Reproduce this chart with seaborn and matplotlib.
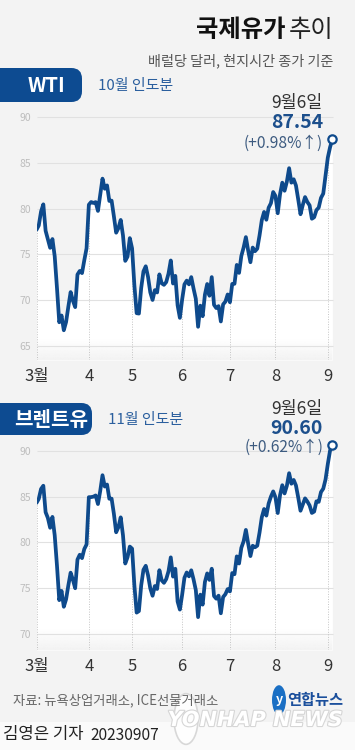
import numpy as np
import pandas as pd
import matplotlib
matplotlib.use('Agg')
import matplotlib.pyplot as plt
import matplotlib.patheffects as pe
from matplotlib.patches import FancyBboxPatch, Circle, Rectangle
import seaborn as sns

# trading days per month, Mar 1 ~ Sep 6 2023
month_labels = ['3월', '4', '5', '6', '7', '8', '9']
month_days = [23, 19, 22, 21, 20, 23, 3]

wti = [77.69, 78.16, 79.68, 80.46, 77.58, 76.66, 75.72, 76.68, 74.80, 71.33,
       67.61, 68.35, 66.74, 67.64, 69.33, 70.90, 69.96, 69.26, 72.81, 73.20,
       72.97, 74.37, 75.67,
       80.42, 80.71, 80.61, 80.70, 79.74, 81.53, 83.26, 82.16, 82.52, 80.83,
       80.86, 79.16, 77.37, 77.87, 78.76, 77.07, 74.30, 74.76, 76.78,
       75.66, 71.66, 68.60, 68.56, 71.34, 73.16, 73.71, 72.56, 70.87, 70.04,
       71.11, 70.86, 72.83, 71.86, 71.69, 71.99, 72.91, 74.34, 71.83, 72.67,
       69.46, 68.09,
       70.10, 71.74, 72.15, 71.74, 72.53, 71.29, 70.17, 67.12, 69.42, 68.27,
       70.62, 71.78, 70.50, 72.53, 69.51, 69.16, 69.37, 67.70, 69.56, 69.86,
       70.64,
       69.79, 71.79, 71.80, 73.86, 72.99, 74.83, 75.75, 76.89, 75.42, 74.15,
       75.75, 75.35, 75.63, 77.07, 78.74, 79.63, 78.78, 80.09, 80.58, 81.80,
       81.37, 79.49, 81.55, 82.82, 81.94, 82.92, 84.40, 82.82, 83.19, 82.51,
       80.99, 79.38, 80.39, 81.25, 80.72, 80.35, 78.89, 79.05, 79.83, 80.10,
       81.16, 81.63, 83.63,
       85.55, 86.69, 87.54]

brent = [84.31, 84.75, 85.83, 86.18, 83.29, 82.66, 81.59, 82.78, 80.77, 77.45,
         73.69, 74.70, 72.97, 73.79, 75.32, 76.69, 75.91, 74.99, 78.12, 78.65,
         78.28, 79.27, 79.77,
         84.93, 84.94, 84.99, 85.12, 84.18, 85.61, 87.33, 86.09, 86.31, 84.76,
         84.77, 83.12, 81.10, 81.66, 82.73, 80.77, 77.69, 78.37, 79.54,
         79.31, 75.32, 72.33, 72.50, 75.30, 77.01, 77.44, 76.41, 74.98, 74.17,
         75.23, 74.91, 76.96, 75.86, 75.58, 75.99, 76.84, 78.36, 76.26, 77.12,
         73.54, 72.66,
         74.28, 76.13, 76.71, 76.29, 76.95, 75.96, 74.79, 71.84, 74.29, 73.20,
         75.67, 76.61, 75.90, 77.12, 74.14, 73.85, 74.18, 72.26, 74.03, 74.34,
         74.90,
         74.65, 76.65, 76.52, 78.47, 77.69, 79.40, 80.11, 81.36, 79.87, 78.50,
         79.63, 79.46, 79.64, 81.07, 82.74, 83.64, 82.92, 84.24, 84.99, 85.56,
         84.91, 83.20, 85.14, 86.24, 85.34, 86.17, 87.55, 86.40, 86.81, 86.21,
         84.89, 83.45, 84.12, 84.80, 84.46, 84.03, 83.21, 83.36, 84.48, 84.42,
         85.49, 85.86, 86.86,
         88.55, 90.04, 90.60]

wti_ticks = [65, 70, 75, 80, 85, 90]
brent_ticks = [70, 75, 80, 85, 90]
wti_change = '(+0.98%↑)'
brent_change = '(+0.62%↑)'

BG = '#f3f3f3'
LINE = '#0e4a8c'
BLUE_TXT = '#1c4f8c'
W, H = 355, 750

sns.set_theme(style='white')
plt.rcParams['font.family'] = ['Noto Sans CJK KR', 'DejaVu Sans']

tick_pos = np.concatenate([[0], np.cumsum(month_days)[:-1]])


def px(x, y):
    return x / W, 1 - y / H


def draw_panel(ax, values, ylim, yticks):
    df = pd.DataFrame({'day': np.arange(len(values)), 'price': values})
    xmax = len(values) - 0.5
    ax.set_facecolor(BG)
    poly = ax.fill_between(df['day'], ylim[0], df['price'], color='white', lw=0, zorder=1)
    # fade of the white area into the background at the bottom
    grad = np.zeros((60, 1, 4))
    grad[..., :3] = matplotlib.colors.to_rgb(BG)
    grad[..., 3] = np.linspace(1, 0, 60)[:, None]
    im = ax.imshow(grad, extent=[0, xmax, ylim[0], ylim[0] + 2.2], origin='lower',
                   aspect='auto', zorder=2)
    im.set_clip_path(poly.get_paths()[0], transform=ax.transData)
    ax.hlines(yticks, 0, xmax, color='#e1e1e1', lw=0.8, zorder=3)
    ax.vlines(tick_pos, ylim[0], df['price'].values[tick_pos], colors='#c4c4c4',
              linestyles=(0, (1, 1.6)), lw=0.7, zorder=3)
    sns.lineplot(data=df, x='day', y='price', color=LINE, lw=2.7, ax=ax, zorder=4)
    ax.plot(df['day'].iloc[-1], df['price'].iloc[-1], marker='o', mfc='white', mec=LINE,
            ms=6, mew=1.6, clip_on=False, zorder=6)
    ax.set_xlim(0, xmax)
    ax.set_ylim(ylim)
    for s in ax.spines.values():
        s.set_visible(False)
    ax.set_yticks(yticks)
    ax.set_yticklabels([str(t) for t in yticks], fontsize=7.5, color='#bdbdbd')
    ax.set_xticks(tick_pos)
    ax.set_xticklabels(month_labels, fontsize=12, color='#333333')
    ax.tick_params(axis='y', length=0, pad=4)
    ax.tick_params(axis='x', length=0, pad=6)
    ax.set_xlabel('')
    ax.set_ylabel('')


fig = plt.figure(figsize=(W / 100, H / 100), dpi=100, facecolor=BG)

ax1 = fig.add_axes([36.5 / W, 1 - 360 / H, 297 / W, 257 / H])
draw_panel(ax1, wti, (63.5, 91.5), wti_ticks)
ax2 = fig.add_axes([36.5 / W, 1 - 650 / H, 297 / W, 213 / H])
draw_panel(ax2, brent, (68.25, 91.5), brent_ticks)

# title
renderer = fig.canvas.get_renderer()
t = fig.text(*px(333, 30), '추이', ha='right', va='center', fontsize=17.5,
             fontweight='light', color='#222222')
tw = t.get_window_extent(renderer).width
fig.text(*px(333 - tw - 3, 30), '국제유가', ha='right', va='center', fontsize=17.5,
         fontweight='bold', color='#111111')
fig.text(*px(333, 61), '배럴당 달러, 현지시간 종가 기준', ha='right', va='center',
         fontsize=10.2, color='#555555')

# series badges
for (y0, y1, w, name, sub) in [(68, 102, 92, 'WTI', '10월 인도분'),
                               (403, 435, 102, '브렌트유', '11월 인도분')]:
    fig.patches.append(FancyBboxPatch(px(-20, y1), (w + 10) / W, (y1 - y0) / H,
                                      boxstyle='round,pad=0,rounding_size=0.03',
                                      transform=fig.transFigure, fc='#0d4b91', ec='none',
                                      mutation_aspect=W / H))
    fig.text(*px((w - 8) / 2 + 4, (y0 + y1) / 2), name, ha='center', va='center',
             fontsize=14.5, fontweight='bold', color='white')
    fig.text(*px(w + 6, (y0 + y1) / 2 + 1), sub, ha='left', va='center',
             fontsize=10.8, color='#2b5f9e')

# last value annotations
for (ax, vals, chg, y_day, y_val, y_chg) in [(ax1, wti, wti_change, 103, 122, 143),
                                            (ax2, brent, brent_change, 409, 429, 447)]:
    fig.text(*px(323, y_day), '9월6일', ha='right', va='center', fontsize=12.5,
             color='#333333')
    fig.text(*px(323, y_val), f'{vals[-1]:.2f}', ha='right', va='center', fontsize=14,
             fontweight='bold', color=BLUE_TXT)
    fig.text(*px(323, y_chg), chg, ha='right', va='center', fontsize=11.2,
             color='#3d5b80')

# footer
fig.text(*px(13, 700), '자료: 뉴욕상업거래소, ICE선물거래소', ha='left', va='center',
         fontsize=9.6, color='#666666')
fig.patches.append(Circle(px(279, 700), 7 / W, transform=fig.transFigure,
                          fc='#1a6fc4', ec='none'))
fig.text(*px(279, 700), 'y', ha='center', va='center', fontsize=9, fontweight='bold',
         fontstyle='italic', color='white')
fig.text(*px(343, 700), '연합뉴스', ha='right', va='center', fontsize=11,
         fontweight='bold', color='#1b4f9c')
fig.patches.append(Rectangle(px(0, 750), 1, 28 / H, transform=fig.transFigure,
                             fc='#fafafa', ec='none'))
fig.patches.append(Circle(px(186, 719), 12 / W, transform=fig.transFigure,
                          fc='#ffffff', ec='#d4d4d4', lw=1.2, alpha=0.9))
fig.text(*px(343, 720), 'YONHAP NEWS', ha='right', va='center', fontsize=15,
         fontweight='bold', fontstyle='italic', color='white', family='DejaVu Sans',
         path_effects=[pe.withStroke(linewidth=1.6, foreground='#d6d6d6')])
k = fig.text(*px(3, 735), '김영은 기자', ha='left', va='center', fontsize=12,
             fontweight='medium', color='#222222')
kw = k.get_window_extent(renderer).width
fig.text(*px(3 + kw + 7, 735), '20230907', ha='left', va='center', fontsize=11.2,
         color='#222222')

fig.savefig('out.png', dpi=100, facecolor=BG)
